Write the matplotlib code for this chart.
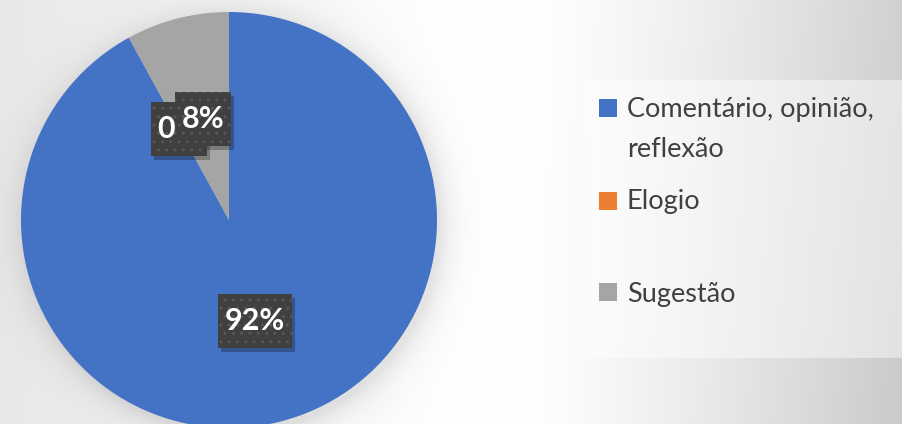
import numpy as np
import matplotlib
matplotlib.use("Agg")
import matplotlib.pyplot as plt
from matplotlib.patches import Rectangle
from matplotlib import transforms

plt.rcParams['font.family'] = ['Lato', 'DejaVu Sans']
plt.rcParams['hatch.linewidth'] = 1.0

labels = ["Comentário, opinião,\nreflexão", "Elogio", "Sugestão"]
values = [92, 0, 8]
colors = ["#4472c4", "#ed7d31", "#a5a5a5"]

W, H = 903, 424
fig = plt.figure(figsize=(W / 100, H / 100), dpi=100)

# background gradient + soft shadow round the pie
bg = fig.add_axes([0, 0, 1, 1])
yy, xx = np.mgrid[0:H, 0:W].astype(float)
v = np.ones((H, W))
right = np.clip((xx - 520) / 383, 0, 1)
left = np.clip((470 - xx) / 470, 0, 1)
v -= 0.18 * right ** 1.3 + 0.09 * left ** 1.2
v -= 0.03 * (yy / H) * right
r = np.hypot(xx - 232, yy - 224)
v -= 0.10 * np.exp(-np.clip(r - 208, 0, None) / 14)
v = np.clip(v, 0, 1)
bg.imshow(np.dstack([v, v, v]), extent=(0, W, H, 0), aspect='auto', interpolation='bilinear')
bg.set_xlim(0, W)
bg.set_ylim(H, 0)
bg.axis('off')

# legend box
bg.add_patch(Rectangle((585, 80), W - 585, 278, facecolor='white', alpha=0.45, lw=0))

# pie
cx, cy, R = 229, 220, 208
ax = fig.add_axes([(cx - R) / W, (H - cy - R) / H, 2 * R / W, 2 * R / H])
wedges, texts, autotexts = ax.pie(values, colors=colors, startangle=90, counterclock=False,
                                  autopct='%.0f%%', pctdistance=0.5,
                                  wedgeprops=dict(linewidth=0))
ax.set_xlim(-1, 1)
ax.set_ylim(-1, 1)
ax.axis('off')

for t in autotexts:
    t.set_fontsize(22)
    t.set_fontweight('bold')
    t.set_color('white')
    t.set_zorder(3)
    t.set_bbox(dict(boxstyle='square,pad=0.22', mutation_aspect=1.9, facecolor='#404040',
                    edgecolor='#575757', hatch='..', lw=0))

# drop shadows under the label boxes
fig.canvas.draw()
for t in autotexts:
    bb = t.get_bbox_patch().get_window_extent()
    ax.add_patch(Rectangle((bb.x0 + 3, bb.y0 - 4), bb.width, bb.height, facecolor='black',
                           alpha=0.25, lw=0, zorder=2, transform=transforms.IdentityTransform()))

# legend
mark_y = [108, 201, 292]
base_y = [117, 209, 302]
for lab, col, my, by in zip(labels, colors, mark_y, base_y):
    bg.add_patch(Rectangle((599, my - 9), 18, 18, facecolor=col, lw=0))
    for k, line in enumerate(lab.split('\n')):
        bg.text(627, by + k * 40, line, fontsize=19.5, color='#404040', va='baseline', ha='left')

fig.savefig('out.png', dpi=100)
